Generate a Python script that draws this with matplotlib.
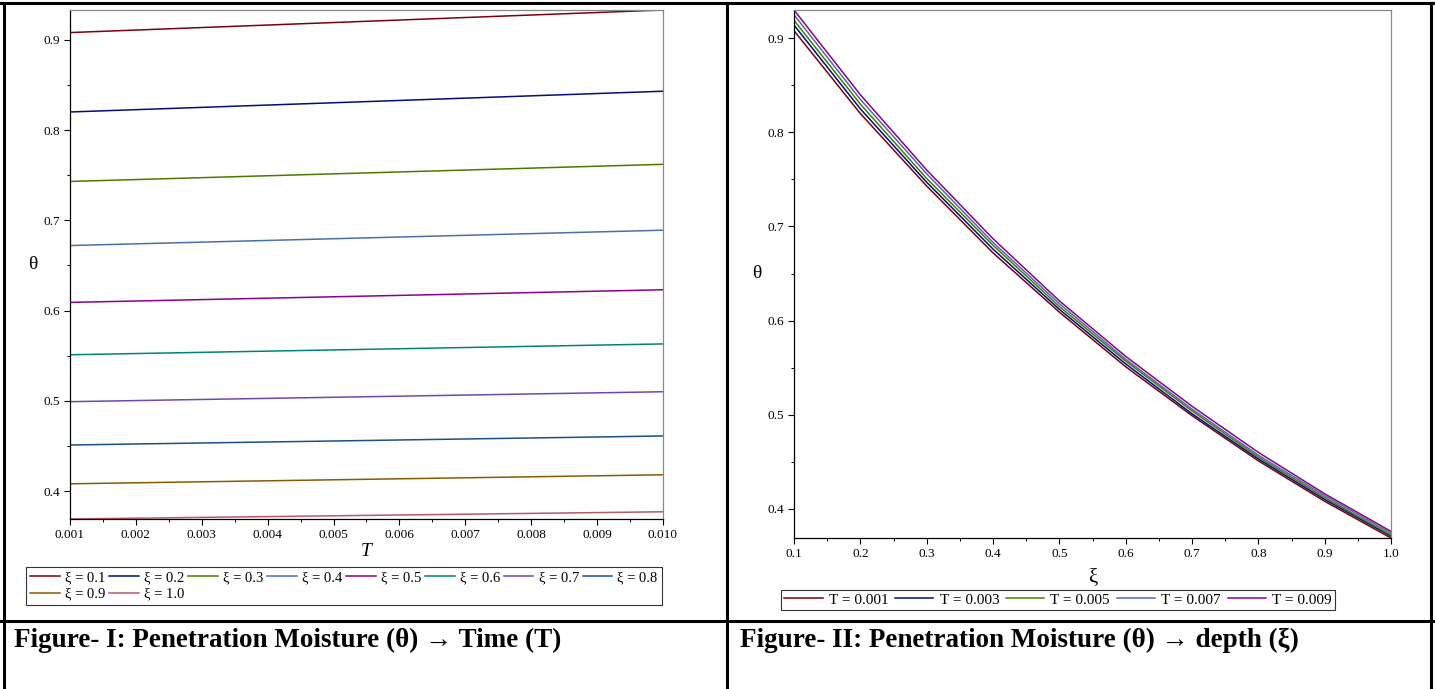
import numpy as np
import matplotlib
matplotlib.use("Agg")
import matplotlib.pyplot as plt
from matplotlib.lines import Line2D
from matplotlib.ticker import MultipleLocator, FormatStrFormatter

plt.rcParams['font.family'] = ['Liberation Serif', 'DejaVu Serif']

# Figure I: theta against T, one straight line per depth xi
xi_labels = ['ξ = 0.1', 'ξ = 0.2', 'ξ = 0.3', 'ξ = 0.4', 'ξ = 0.5',
             'ξ = 0.6', 'ξ = 0.7', 'ξ = 0.8', 'ξ = 0.9', 'ξ = 1.0']
t_ends = [0.001, 0.010]
theta_t0 = [0.908, 0.820, 0.743, 0.672, 0.609, 0.551, 0.499, 0.451, 0.408, 0.369]
theta_t1 = [0.933, 0.843, 0.762, 0.689, 0.623, 0.563, 0.510, 0.461, 0.418, 0.377]

# Figure II: theta against xi, one curve per time T
xi_vals = [0.1, 0.2, 0.3, 0.4, 0.5, 0.6, 0.7, 0.8, 0.9, 1.0]
t_labels = ['T = 0.001', 'T = 0.003', 'T = 0.005', 'T = 0.007', 'T = 0.009']
theta_T001 = [0.908, 0.820, 0.743, 0.672, 0.609, 0.551, 0.499, 0.451, 0.408, 0.369]
theta_T003 = [0.914, 0.825, 0.747, 0.676, 0.612, 0.554, 0.501, 0.453, 0.410, 0.371]
theta_T005 = [0.919, 0.830, 0.751, 0.680, 0.615, 0.557, 0.504, 0.455, 0.412, 0.372]
theta_T007 = [0.925, 0.835, 0.756, 0.683, 0.618, 0.559, 0.506, 0.457, 0.414, 0.374]
theta_T009 = [0.930, 0.840, 0.760, 0.687, 0.621, 0.562, 0.509, 0.460, 0.416, 0.376]

colors = ['#7a0010', '#000e78', '#4b7a00', '#4a6ea8', '#8c008c',
          '#00827a', '#7048b0', '#1c5088', '#8a5a00', '#b85868']

W, H = 1435, 689
fig = plt.figure(figsize=(W / 100, H / 100), dpi=100)


def fx(px):
    return px / W


def fy(py):
    return 1 - py / H


def style_axes(ax):
    ax.spines['top'].set_color('#888888')
    ax.spines['right'].set_color('#888888')
    ax.spines['left'].set_color('black')
    ax.spines['bottom'].set_color('black')
    for s in ax.spines.values():
        s.set_linewidth(0.9)
    ax.tick_params(which='major', length=4, width=0.8, labelsize=9.5, pad=3)
    ax.tick_params(which='minor', length=2.5, width=0.7)


# --- left panel
ax1 = fig.add_axes([fx(70), fy(519), fx(663) - fx(70), fy(10) - fy(519)])
for i in range(len(xi_labels)):
    ax1.plot(t_ends, [theta_t0[i], theta_t1[i]], color=colors[i], lw=1.1, label=xi_labels[i])
ax1.set_xlim(0.001, 0.010)
ax1.set_ylim(min(theta_t0), max(theta_t1))
ax1.xaxis.set_major_locator(MultipleLocator(0.001))
ax1.xaxis.set_minor_locator(MultipleLocator(0.0005))
ax1.xaxis.set_major_formatter(FormatStrFormatter('%.3f'))
ax1.yaxis.set_major_locator(MultipleLocator(0.1))
ax1.yaxis.set_minor_locator(MultipleLocator(0.05))
ax1.yaxis.set_major_formatter(FormatStrFormatter('%.1f'))
style_axes(ax1)
ax1.set_xlabel('T', fontsize=14, style='italic', labelpad=2)
ax1.set_ylabel('θ', fontsize=14, rotation=0, labelpad=8, va='center')
h1, l1 = ax1.get_legend_handles_labels()
# matplotlib fills legends column by column; reorder so rows read 0.1 .. 0.8, then 0.9, 1.0
order = [0, 8, 1, 9, 2, 3, 4, 5, 6, 7]
leg1 = fig.legend([h1[k] for k in order], [l1[k] for k in order], loc='upper left',
                  bbox_to_anchor=(fx(26), fy(567)), ncol=8,
                  fontsize=10.5, frameon=True, fancybox=False, edgecolor='black',
                  handlelength=2.0, handletextpad=0.35, columnspacing=0.3,
                  borderpad=0.3, labelspacing=0.2, borderaxespad=0)
leg1.get_frame().set_linewidth(0.8)

# --- right panel
ax2 = fig.add_axes([fx(794), fy(538), fx(1391) - fx(794), fy(10) - fy(538)])
series = [theta_T001, theta_T003, theta_T005, theta_T007, theta_T009]
for i, ys in enumerate(series):
    ax2.plot(xi_vals, ys, color=colors[i], lw=1.1, label=t_labels[i])
ax2.set_xlim(0.1, 1.0)
ax2.set_ylim(min(theta_T001), max(theta_T009))
ax2.xaxis.set_major_locator(MultipleLocator(0.1))
ax2.xaxis.set_minor_locator(MultipleLocator(0.05))
ax2.xaxis.set_major_formatter(FormatStrFormatter('%.1f'))
ax2.yaxis.set_major_locator(MultipleLocator(0.1))
ax2.yaxis.set_minor_locator(MultipleLocator(0.05))
ax2.yaxis.set_major_formatter(FormatStrFormatter('%.1f'))
style_axes(ax2)
ax2.set_xlabel('ξ', fontsize=15, labelpad=6)
ax2.set_ylabel('θ', fontsize=14, rotation=0, labelpad=8, va='center')
h2, l2 = ax2.get_legend_handles_labels()
leg2 = fig.legend(h2, l2, loc='upper center', bbox_to_anchor=(fx(1058), fy(590)), ncol=5,
                  fontsize=11, frameon=True, fancybox=False, edgecolor='black',
                  handlelength=2.5, handletextpad=0.4, columnspacing=0.45,
                  borderpad=0.2, borderaxespad=0)
leg2.get_frame().set_linewidth(0.8)

# --- table borders of the page
lw = 2.2
fig.add_artist(Line2D([0, 1], [fy(3), fy(3)], color='black', lw=lw))
fig.add_artist(Line2D([0, 1], [fy(621), fy(621)], color='black', lw=lw))
fig.add_artist(Line2D([fx(4), fx(4)], [0, fy(3)], color='black', lw=lw))
fig.add_artist(Line2D([fx(727), fx(727)], [0, fy(3)], color='black', lw=lw))
fig.add_artist(Line2D([fx(1431), fx(1431)], [0, fy(3)], color='black', lw=lw))

fig.text(fx(14), fy(640), 'Figure- I: Penetration Moisture (θ) → Time (T)',
         fontsize=19.5, fontweight='bold', va='center', ha='left')
fig.text(fx(740), fy(640), 'Figure- II: Penetration Moisture (θ) → depth (ξ)',
         fontsize=19.5, fontweight='bold', va='center', ha='left')

fig.savefig('out.png', dpi=100)
